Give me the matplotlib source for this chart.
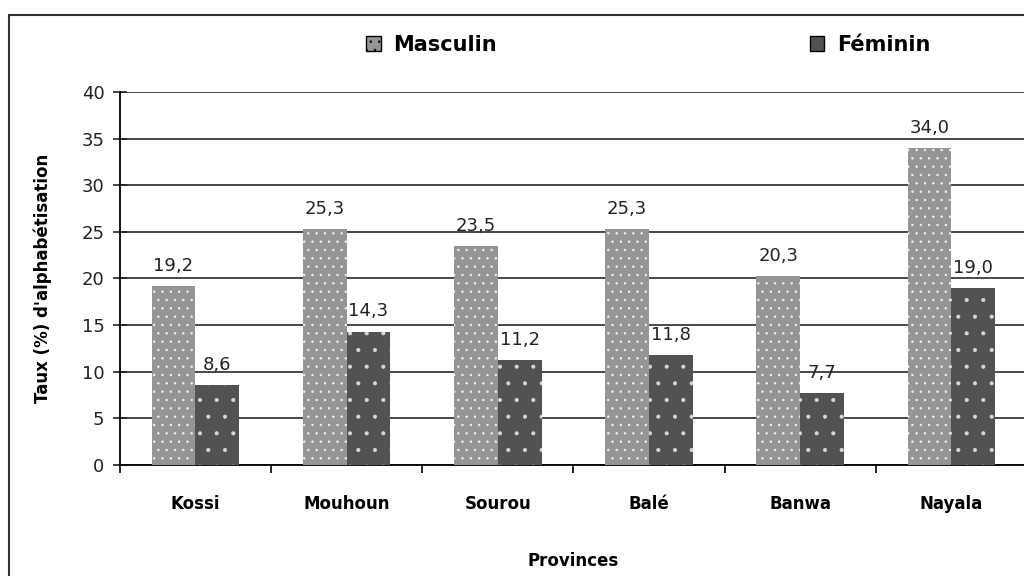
import matplotlib
matplotlib.use("Agg")
import matplotlib.pyplot as plt
import numpy as np
from matplotlib.patches import Rectangle, Patch

plt.rcParams["font.family"] = ["DejaVu Sans"]
plt.rcParams["hatch.linewidth"] = 0.5

provinces = ["Kossi", "Mouhoun", "Sourou", "Balé", "Banwa", "Nayala"]
masculin = [19.2, 25.3, 23.5, 25.3, 20.3, 34.0]
feminin = [8.6, 14.3, 11.2, 11.8, 7.7, 19.0]
series_names = ["Masculin", "Féminin"]
yticks = [0, 5, 10, 15, 20, 25, 30, 35, 40]

fig = plt.figure(figsize=(10.24, 5.76), dpi=100)
ax = fig.add_axes([0.117, 0.193, 0.886, 0.647])

x = np.arange(len(provinces))
w = 0.29
c_m = "#959595"
c_f = "#525252"
b1 = ax.bar(x - w / 2, masculin, w, color=c_m, edgecolor="#f4f4f4", linewidth=0,
            hatch="..", zorder=3)
b2 = ax.bar(x + w / 2, feminin, w, color=c_f, edgecolor="#d8d8d8", linewidth=0,
            hatch=".", zorder=3)

for bars, vals in ((b1, masculin), (b2, feminin)):
    for b, v in zip(bars, vals):
        ax.annotate(f"{v:.1f}".replace(".", ","),
                    (b.get_x() + b.get_width() / 2, v),
                    xytext=(0, 8), textcoords="offset points",
                    ha="center", va="bottom", fontsize=13, color="#222222")

ax.set_ylim(0, 40)
ax.set_xlim(-0.5, len(provinces) - 0.5)
ax.set_yticks(yticks)
ax.tick_params(axis="y", direction="inout", length=10, width=1.2, labelsize=13,
               pad=6, colors="#222222")
ax.yaxis.grid(True, color="#3a3a3a", linewidth=1.3, zorder=0)
ax.set_axisbelow(True)

ax.set_xticks(x)
ax.set_xticklabels(provinces, fontsize=12, fontweight="bold")
ax.tick_params(axis="x", length=0, pad=22)
ax.set_xticks(np.arange(len(provinces) + 1) - 0.5, minor=True)
ax.tick_params(axis="x", which="minor", direction="out", length=6, width=1.2)

for s in ("top", "right"):
    ax.spines[s].set_visible(False)
ax.spines["left"].set_linewidth(1.3)
ax.spines["bottom"].set_linewidth(1.3)

ax.set_ylabel("Taux (%) d'alphabétisation", fontsize=12, fontweight="bold",
              labelpad=21)
ax.set_xlabel("Provinces", fontsize=12, fontweight="bold", labelpad=28)

handles = [Patch(facecolor=c_m, edgecolor="black", hatch="..", linewidth=1),
           Patch(facecolor=c_f, edgecolor="black", linewidth=1)]
fig.legend(handles, series_names, loc="center", bbox_to_anchor=(0.633, 0.922),
           ncol=2, frameon=False, prop={"size": 15, "weight": "bold"},
           handlelength=0.7, handleheight=0.7, handletextpad=0.6,
           columnspacing=15)

fig.patches.append(Rectangle((0.0088, -0.2), 1.2, 1.174, transform=fig.transFigure,
                             fill=False, edgecolor="#333333", linewidth=1.5))

fig.savefig("out.png", dpi=100)
